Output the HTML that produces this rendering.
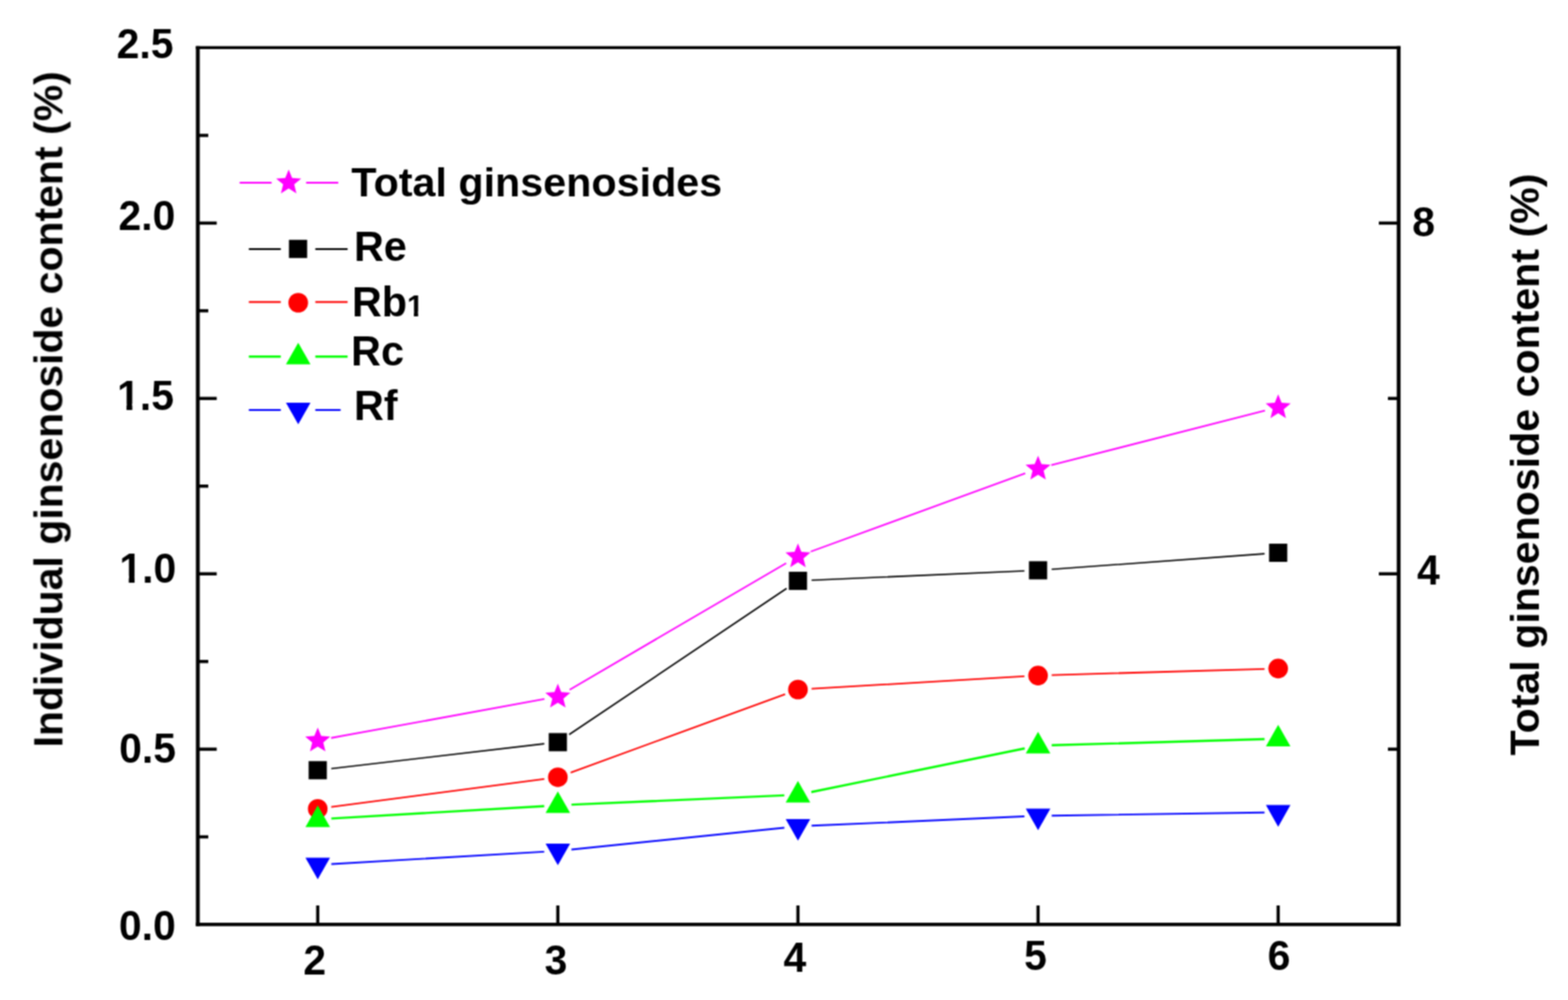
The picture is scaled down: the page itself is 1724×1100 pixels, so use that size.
<!DOCTYPE html>
<html lang="en"><head><meta charset="utf-8"><title>Ginsenoside content</title>
<style>html,body{margin:0;padding:0;background:#fff;overflow:hidden}svg{display:block}text{font-family:"Liberation Sans",Arial,Helvetica,sans-serif;font-weight:bold;fill:#000}</style>
</head><body>
<svg width="1724" height="1100" viewBox="0 0 1724 1100">
<defs><filter id="soft" x="0" y="0" width="1724" height="1100" filterUnits="userSpaceOnUse" color-interpolation-filters="sRGB"><feConvolveMatrix order="3" kernelMatrix="1 2 1 2 4 2 1 2 1" divisor="16" edgeMode="duplicate" preserveAlpha="false"/></filter></defs>
<rect width="1724" height="1100" fill="#fff"/>
<g filter="url(#soft)">
<path d="M217.5 50.70V1018.70" stroke="#000" stroke-width="4.2" fill="none"/>
<path d="M1537.8 50.70V1018.70" stroke="#000" stroke-width="4.2" fill="none"/>
<path d="M215.40 52.3H1539.90" stroke="#000" stroke-width="3.2" fill="none"/>
<path d="M215.40 1016.9H1539.90" stroke="#000" stroke-width="3.6" fill="none"/>
<g stroke="#000" stroke-width="3.5" fill="none">
<line x1="218.0" y1="920.55" x2="229.0" y2="920.55"/>
<line x1="218.0" y1="824.10" x2="238.3" y2="824.10"/>
<line x1="1538.0" y1="824.10" x2="1526.0" y2="824.10"/>
<line x1="218.0" y1="727.65" x2="229.0" y2="727.65"/>
<line x1="218.0" y1="631.20" x2="238.3" y2="631.20"/>
<line x1="1538.0" y1="631.20" x2="1516.0" y2="631.20"/>
<line x1="218.0" y1="534.75" x2="229.0" y2="534.75"/>
<line x1="218.0" y1="438.30" x2="238.3" y2="438.30"/>
<line x1="1538.0" y1="438.30" x2="1526.0" y2="438.30"/>
<line x1="218.0" y1="341.85" x2="229.0" y2="341.85"/>
<line x1="218.0" y1="245.40" x2="238.3" y2="245.40"/>
<line x1="1538.0" y1="245.40" x2="1516.0" y2="245.40"/>
<line x1="218.0" y1="148.95" x2="229.0" y2="148.95"/>
<line x1="349.35" y1="1017.0" x2="349.35" y2="996.0"/>
<line x1="613.35" y1="1017.0" x2="613.35" y2="996.0"/>
<line x1="877.35" y1="1017.0" x2="877.35" y2="996.0"/>
<line x1="1141.35" y1="1017.0" x2="1141.35" y2="996.0"/>
<line x1="1405.35" y1="1017.0" x2="1405.35" y2="996.0"/>
</g>
<path d="M364.11 811.76L598.59 768.93M626.30 758.66L864.40 619.48M891.44 606.76L1127.26 520.61M1155.88 511.74L1390.82 451.66" stroke="#ff00ff" stroke-width="1.8" fill="none"/>
<path d="M364.25 845.51L598.45 818.13M625.80 808.02L864.90 647.28M892.34 638.26L1126.36 628.00M1156.31 626.25L1390.39 609.15" stroke="#000000" stroke-width="1.6" fill="none"/>
<path d="M364.22 887.73L598.48 856.92M627.44 849.82L863.26 763.66M892.32 757.64L1126.38 743.96M1156.34 742.64L1390.36 735.80" stroke="#ff0000" stroke-width="1.8" fill="none"/>
<path d="M364.32 900.38L598.38 886.70M628.34 885.17L862.36 874.91M892.05 871.25L1126.65 823.25M1156.34 819.80L1390.36 812.96" stroke="#00ff00" stroke-width="2.4" fill="none"/>
<path d="M364.32 950.54L598.38 936.86M628.27 934.46L862.43 910.50M892.34 908.32L1126.36 898.06M1156.35 897.18L1390.35 893.76" stroke="#0000ff" stroke-width="1.9" fill="none"/>
<polygon points="349.35,800.25 353.10,809.59 363.14,810.27 355.42,816.73 357.87,826.49 349.35,821.13 340.83,826.49 343.28,816.73 335.56,810.27 345.60,809.59" fill="#ff00ff"/>
<polygon points="613.35,752.03 617.10,761.37 627.14,762.05 619.42,768.50 621.87,778.26 613.35,772.91 604.83,778.26 607.28,768.50 599.56,762.05 609.60,761.37" fill="#ff00ff"/>
<polygon points="877.35,597.71 881.10,607.05 891.14,607.73 883.42,614.18 885.87,623.94 877.35,618.59 868.83,623.94 871.28,614.18 863.56,607.73 873.60,607.05" fill="#ff00ff"/>
<polygon points="1141.35,501.26 1145.10,510.60 1155.14,511.28 1147.42,517.73 1149.87,527.49 1141.35,522.14 1132.83,527.49 1135.28,517.73 1127.56,511.28 1137.60,510.60" fill="#ff00ff"/>
<polygon points="1405.35,433.74 1409.10,443.08 1419.14,443.76 1411.42,450.22 1413.87,459.98 1405.35,454.62 1396.83,459.98 1399.28,450.22 1391.56,443.76 1401.60,443.08" fill="#ff00ff"/>
<rect x="339.35" y="837.25" width="20.0" height="20.0" fill="#000000"/>
<rect x="603.35" y="806.38" width="20.0" height="20.0" fill="#000000"/>
<rect x="867.35" y="628.92" width="20.0" height="20.0" fill="#000000"/>
<rect x="1131.35" y="617.34" width="20.0" height="20.0" fill="#000000"/>
<rect x="1395.35" y="598.05" width="20.0" height="20.0" fill="#000000"/>
<circle cx="349.35" cy="889.69" r="10.8" fill="#ff0000"/>
<circle cx="613.35" cy="854.96" r="10.8" fill="#ff0000"/>
<circle cx="877.35" cy="758.51" r="10.8" fill="#ff0000"/>
<circle cx="1141.35" cy="743.08" r="10.8" fill="#ff0000"/>
<circle cx="1405.35" cy="735.37" r="10.8" fill="#ff0000"/>
<polygon points="349.35,886.02 362.85,909.78 335.85,909.78" fill="#00ff00"/>
<polygon points="613.35,870.59 626.85,894.35 599.85,894.35" fill="#00ff00"/>
<polygon points="877.35,859.01 890.85,882.77 863.85,882.77" fill="#00ff00"/>
<polygon points="1141.35,805.00 1154.85,828.76 1127.85,828.76" fill="#00ff00"/>
<polygon points="1405.35,797.29 1418.85,821.05 1391.85,821.05" fill="#00ff00"/>
<polygon points="349.35,967.25 362.85,943.49 335.85,943.49" fill="#0000ff"/>
<polygon points="613.35,951.82 626.85,928.06 599.85,928.06" fill="#0000ff"/>
<polygon points="877.35,924.82 890.85,901.06 863.85,901.06" fill="#0000ff"/>
<polygon points="1141.35,913.24 1154.85,889.48 1127.85,889.48" fill="#0000ff"/>
<polygon points="1405.35,909.38 1418.85,885.62 1391.85,885.62" fill="#0000ff"/>
<path d="M263.5 201.0H298.6M336.6 201.0H371.9" stroke="#ff00ff" stroke-width="2.0" fill="none"/>
<polygon points="317.40,186.40 321.15,195.74 331.19,196.42 323.47,202.87 325.92,212.63 317.40,207.28 308.88,212.63 311.33,202.87 303.61,196.42 313.65,195.74" fill="#ff00ff"/>
<path d="M273.6 274.0H308.7M346.7 274.0H382.2" stroke="#000000" stroke-width="1.8" fill="none"/>
<rect x="317.70" y="263.80" width="20.0" height="20.0" fill="#000000"/>
<path d="M273.6 332.3H308.7M346.7 332.3H382.2" stroke="#ff0000" stroke-width="2.0" fill="none"/>
<circle cx="327.90" cy="333.00" r="10.8" fill="#ff0000"/>
<path d="M273.6 392.2H308.7M346.7 392.2H382.2" stroke="#00ff00" stroke-width="2.5" fill="none"/>
<polygon points="327.90,376.96 341.40,400.72 314.40,400.72" fill="#00ff00"/>
<path d="M273.6 450.9H308.7M346.7 450.9H374.5" stroke="#0000ff" stroke-width="2.0" fill="none"/>
<polygon points="327.90,466.64 341.40,442.88 314.40,442.88" fill="#0000ff"/>
<text transform="translate(128.25 63.80) scale(0.974 1)" font-size="46.2px">2.5</text>
<text transform="translate(130.35 253.20) scale(0.974 1)" font-size="46.2px">2.0</text>
<text transform="translate(128.70 451.45) scale(0.974 1)" font-size="46.2px">1.5</text>
<path d="M130.90 444.01H139.11V453.45H130.90ZM145.46 444.01H153.64V453.45H145.46Z" fill="#fff"/>
<text transform="translate(131.20 640.60) scale(0.974 1)" font-size="46.2px">1.0</text>
<path d="M133.40 633.16H141.61V642.60H133.40ZM147.96 633.16H156.14V642.60H147.96Z" fill="#fff"/>
<text transform="translate(130.95 839.30) scale(0.974 1)" font-size="46.2px">0.5</text>
<text transform="translate(130.70 1033.65) scale(0.974 1)" font-size="46.2px">0.0</text>
<text transform="translate(333.50 1072.00) scale(0.974 1)" font-size="46.2px">2</text>
<text transform="translate(598.75 1072.40) scale(0.974 1)" font-size="46.2px">3</text>
<text transform="translate(861.60 1068.85) scale(0.974 1)" font-size="46.2px">4</text>
<text transform="translate(1126.10 1067.10) scale(0.974 1)" font-size="46.2px">5</text>
<text transform="translate(1393.65 1067.10) scale(0.974 1)" font-size="46.2px">6</text>
<text transform="translate(1552.75 259.70) scale(0.974 1)" font-size="46.2px">8</text>
<text transform="translate(1558.10 643.00) scale(0.974 1)" font-size="46.2px">4</text>
<text transform="translate(386.30 215.70) scale(1.018 1)" font-size="44.6px">Total ginsenosides</text>
<text transform="translate(389.20 287.10)" font-size="45.4px">Re</text>
<text transform="translate(386.90 348.00)" font-size="45.4px">Rb<tspan font-size="33px">1</tspan></text>
<path d="M449.03 342.68H455.06V350.00H449.03ZM459.71 342.68H465.71V350.00H459.71Z" fill="#fff"/>
<text transform="translate(386.10 402.30)" font-size="45.4px">Rc</text>
<text transform="translate(389.20 462.30)" font-size="45.4px">Rf</text>
<text transform="translate(68.60 822.15) rotate(-90) scale(1.011 1)" font-size="44.6px">Individual ginsenoside content (%)</text>
<text transform="translate(1692.00 830.95) rotate(-90) scale(1.0147 1)" font-size="44.6px">Total ginsenoside content (%)</text>
</g>
</svg>
</body></html>
